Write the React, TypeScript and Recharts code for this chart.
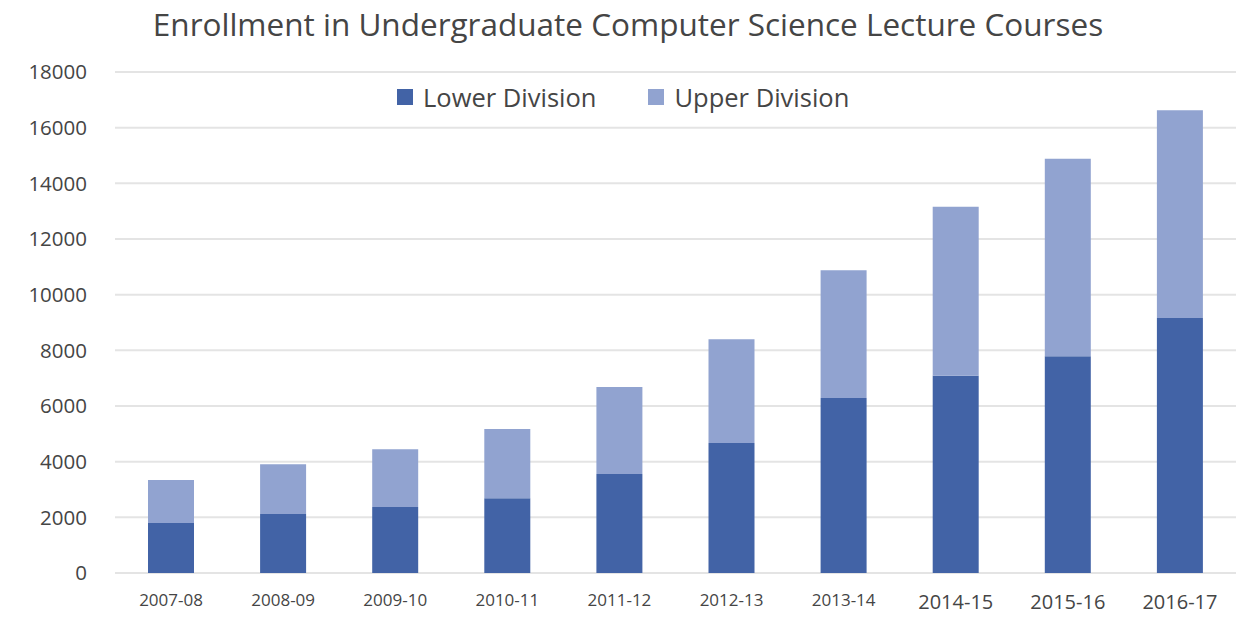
import React from "react";
import { BarChart, Bar, XAxis, YAxis, CartesianGrid, Legend } from "recharts";

const years = ["2007-08", "2008-09", "2009-10", "2010-11", "2011-12", "2012-13", "2013-14", "2014-15", "2015-16", "2016-17"];
const lowerDivision = [1800, 2120, 2370, 2690, 3560, 4670, 6290, 7090, 7790, 9160];
const upperDivision = [1540, 1790, 2080, 2480, 3120, 3730, 4590, 6070, 7090, 7470];
const yTicks = [0, 2000, 4000, 6000, 8000, 10000, 12000, 14000, 16000, 18000];

const LOWER = "#4263A6";
const UPPER = "#91A3D0";
const TEXT = "#454545";
const FONT = "'Open Sans', sans-serif";

const data = years.map((y, i) => ({ year: y, lower: lowerDivision[i], upper: upperDivision[i] }));

const XTick = (props: any) => {
  const { x, y, payload } = props;
  const big = payload.index >= 7;
  return (
    <text x={x} y={y + (big ? 28 : 25)} textAnchor="middle" fill={TEXT} fontFamily={FONT} fontSize={big ? 20 : 17}>
      {payload.value}
    </text>
  );
};

const LegendContent = () => (
  <div style={{ display: "flex", alignItems: "center", fontFamily: FONT, fontSize: 25.5, color: TEXT, whiteSpace: "nowrap" }}>
    <span style={{ width: 16, height: 16, background: LOWER, display: "inline-block", marginRight: 10 }} />
    <span>Lower Division</span>
    <span style={{ width: 16, height: 16, background: UPPER, display: "inline-block", marginLeft: 52, marginRight: 10 }} />
    <span>Upper Division</span>
  </div>
);

export default function App() {
  return (
    <div style={{ position: "absolute", left: 0, top: 0, width: 1238, height: 617, background: "#fff" }}>
      <div
        style={{
          position: "absolute",
          top: 2,
          left: 0,
          width: 1256,
          textAlign: "center",
          fontFamily: FONT,
          fontSize: 31.5,
          color: TEXT,
          whiteSpace: "nowrap",
        }}
      >
        Enrollment in Undergraduate Computer Science Lecture Courses
      </div>
      <BarChart width={1238} height={617} data={data} margin={{ top: 72, right: 2, bottom: 0, left: 0 }} barSize={46}>
        <CartesianGrid vertical={false} stroke="#e4e4e4" strokeWidth={2} />
        <XAxis dataKey="year" height={44} axisLine={false} tickLine={false} tick={<XTick />} interval={0} />
        <YAxis
          width={115}
          domain={[0, 18000]}
          ticks={yTicks}
          axisLine={false}
          tickLine={false}
          tick={{ fill: TEXT, fontFamily: FONT, fontSize: 20.5 }}
          tickMargin={22}
          interval={0}
        />
        <Legend
          verticalAlign="middle"
          layout="horizontal"
          content={<LegendContent />}
          wrapperStyle={{ position: "absolute", top: 80, left: 397, width: "auto" }}
        />
        <Bar dataKey="lower" name="Lower Division" stackId="a" fill={LOWER} isAnimationActive={false} />
        <Bar dataKey="upper" name="Upper Division" stackId="a" fill={UPPER} isAnimationActive={false} />
      </BarChart>
    </div>
  );
}
